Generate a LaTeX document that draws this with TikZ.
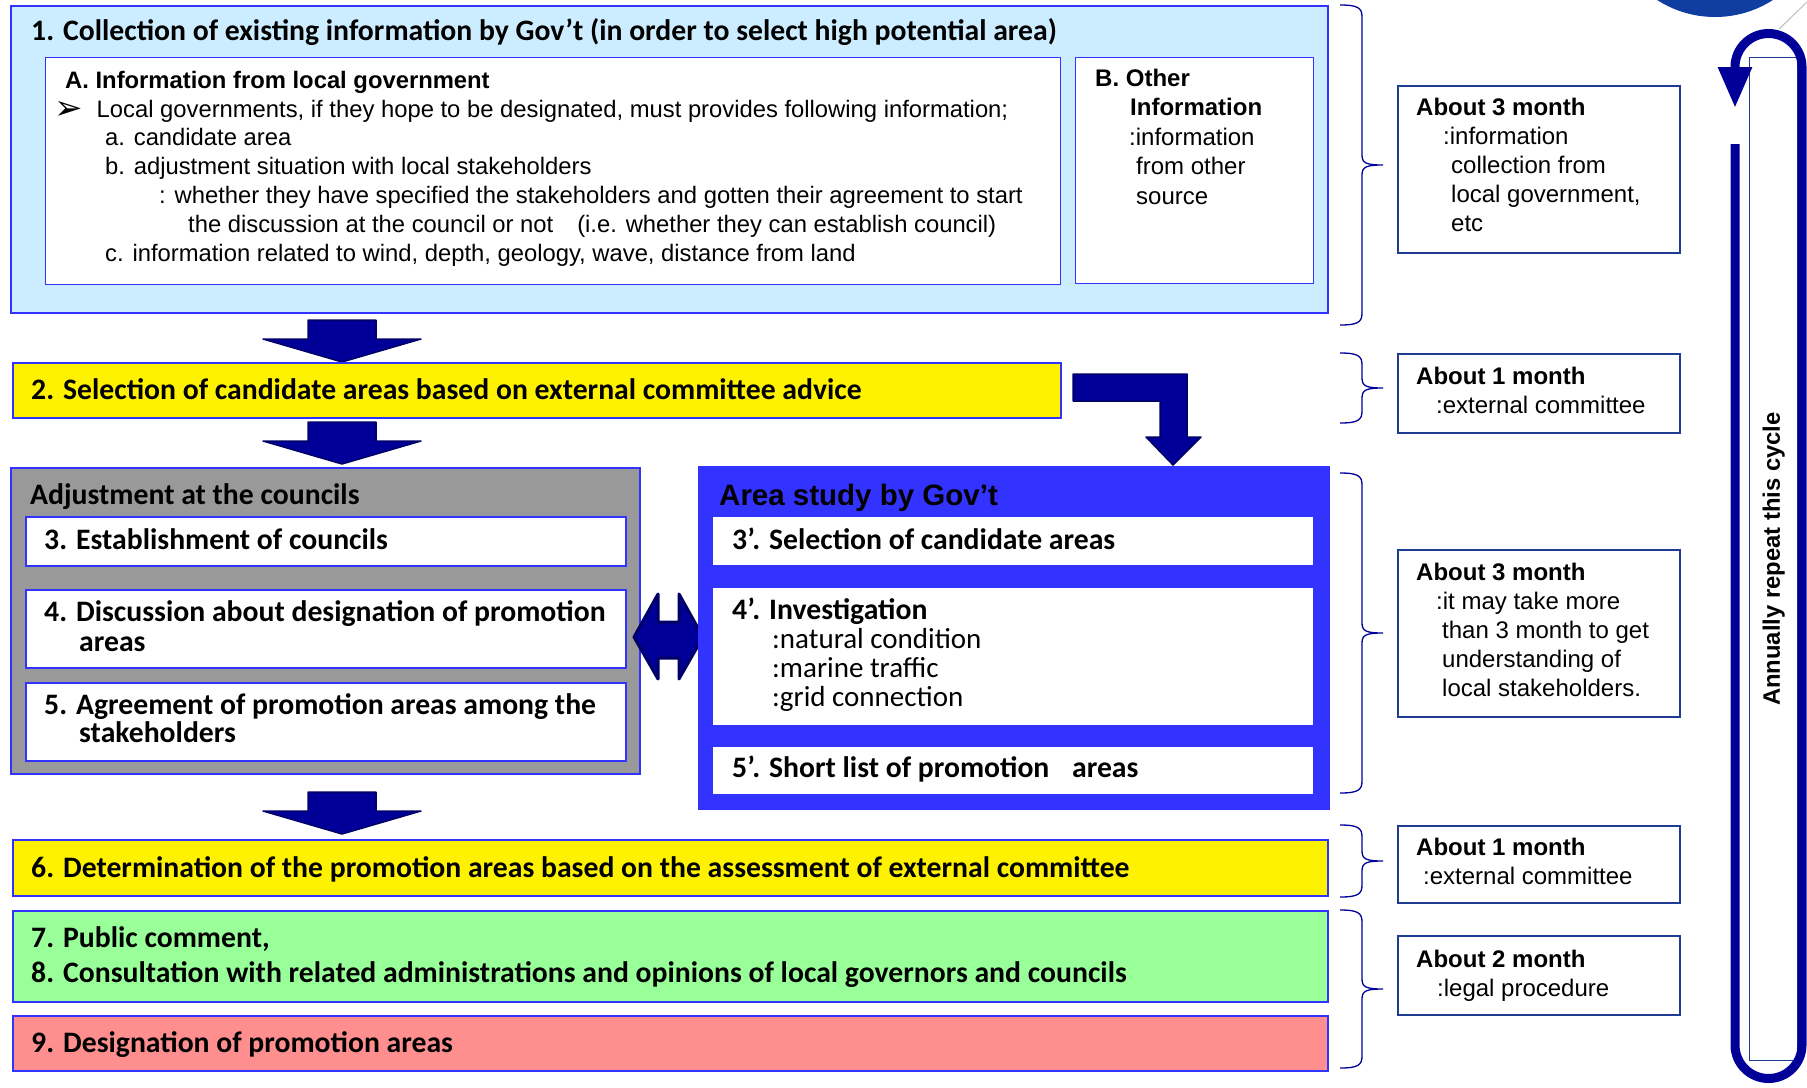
\documentclass[tikz,border=0pt]{standalone}
\usepackage{fontspec}
\setmainfont{Liberation Sans}
\newfontfamily\calib{Carlito}
\newfontfamily\dingfont{DejaVu Sans}
\usetikzlibrary{arrows.meta}

\definecolor{skyfill}{HTML}{CCECFF}
\definecolor{frameblue}{HTML}{3333FF}
\definecolor{studyblue}{HTML}{3333FF}
\definecolor{navy}{HTML}{000099}
\definecolor{navyedge}{HTML}{000066}
\definecolor{sideframe}{HTML}{1F3C93}
\definecolor{greenfill}{HTML}{99FF99}
\definecolor{pinkfill}{HTML}{FF8F8F}
\definecolor{grayfill}{HTML}{999999}
\definecolor{logoblue}{HTML}{0F3DA0}

\tikzset{
  panel/.style={draw=frameblue, line width=1.6pt, anchor=north west, inner sep=0pt},
  inbox/.style={draw=white, fill=white, line width=1pt, anchor=north west, inner sep=0pt},
  sidebox/.style={draw=sideframe, fill=white, line width=1.6pt, anchor=north west, inner sep=0pt},
  hd/.style={font=\calib\bfseries\fontsize{29.7}{34}\selectfont, anchor=base west, inner sep=0pt, align=left},
  sub/.style={font=\calib\fontsize{29}{29}\selectfont, anchor=base west, inner sep=0pt, align=left},
  note/.style={font=\fontsize{24}{29}\selectfont, anchor=base west, inner sep=0pt, align=left},
  blk/.style={fill=navy, draw=navyedge, line width=1.5pt, line join=round},
  brk/.style={draw=navy, line width=1.3pt},
  blockdown/.pic={\draw[blk] (-34,0) -- (34,0) -- (34,19) -- (79,19) -- (0,42) -- (-79,19) -- (-34,19) -- cycle;}
}

\begin{document}
\begin{tikzpicture}[x=1pt, y=-1pt]
    \useasboundingbox (0,0) rectangle (1807,1087);
    \clip (0,0) rectangle (1807,1087);

    % 1. collection of information (multi-line texts sit on their last baseline)
    \node[panel, fill=skyfill, minimum width=1317pt, minimum height=307pt] (collect) at (10,5) {};
    \node[hd] (collectT) at (31,40) {1. Collection of existing information by Gov’t (in order to select high potential area)};
    \node[panel, fill=white, line width=1.3pt, minimum width=1015pt, minimum height=227pt] (localA) at (45,57) {};
    \node[note, font=\fontsize{23.8}{28.8}\selectfont] (localT) at (65,261) {%
        {\bfseries A. Information from local government}\\
        \hspace*{-11pt}\raisebox{-2pt}{\dingfont\fontsize{34}{34}\selectfont ➢}\hspace{14pt}Local governments, if they hope to be designated, must provides following information;\\
        \hspace*{40pt}a. candidate area\\
        \hspace*{40pt}b. adjustment situation with local stakeholders\\
        \hspace*{94pt}: whether they have specified the stakeholders and gotten their agreement to start\\
        \hspace*{123pt}the discussion at the council or not\hspace{24pt}(i.e. whether they can establish council)\\
        \hspace*{40pt}c. information related to wind, depth, geology, wave, distance from land};
    \node[panel, fill=white, line width=1.3pt, minimum width=238pt, minimum height=226pt] (otherB) at (1075,57) {};
    \node[note, font=\fontsize{24}{29.5}\selectfont] (otherT) at (1095,204) {%
        {\bfseries B. Other}\\
        \hspace*{35pt}{\bfseries Information}\\
        \hspace*{34pt}:information\\
        \hspace*{41pt}from other\\
        \hspace*{41pt}source};

    % 2. candidate areas
    \pic at (342,320) {blockdown};
    \node[panel, fill=yellow, minimum width=1048pt, minimum height=55pt] (select) at (12,362) {};
    \node[hd] (selectT) at (31,399) {2. Selection of candidate areas based on external committee advice};
    \pic at (342,422) {blockdown};
    \draw[blk] (1073,374) -- (1187,374) -- (1187,437) -- (1201,437) -- (1173,465)
        -- (1146,437) -- (1160,437) -- (1160,401) -- (1073,401) -- cycle;

    % councils
    \node[panel, fill=grayfill, minimum width=629pt, minimum height=306pt] (adjust) at (10,467) {};
    \node[hd] (adjustT) at (30,504) {Adjustment at the councils};
    \node[panel, fill=white, minimum width=600pt, minimum height=49pt] (est3) at (25,516) {};
    \node[hd] (est3T) at (44,549) {3. Establishment of councils};
    \node[panel, fill=white, minimum width=600pt, minimum height=78pt] (disc4) at (25,589) {};
    \node[hd, font=\calib\bfseries\fontsize{29.7}{30}\selectfont] (disc4T) at (44,651) {4. Discussion about designation of promotion\\\hspace*{35pt}areas};
    \node[panel, fill=white, minimum width=600pt, minimum height=78pt] (agree5) at (25,682) {};
    \node[hd, font=\calib\bfseries\fontsize{29.7}{28}\selectfont] (agree5T) at (44,742) {5. Agreement of promotion areas among the\\\hspace*{35pt}stakeholders};

    % exchange between councils and Gov't
    \draw[blk, line width=3pt] (634,637) -- (658,594) -- (658,622) -- (679,622) -- (679,594) -- (703,637)
        -- (679,679) -- (679,658) -- (658,658) -- (658,679) -- cycle;

    % area study
    \node[panel, fill=studyblue, minimum width=630pt, minimum height=342pt] (study) at (698,466) {};
    \node[font=\bfseries\fontsize{29.5}{34}\selectfont, anchor=base west, inner sep=0pt] (studyT) at (719,505) {Area study by Gov’t};
    \node[inbox, minimum width=599pt, minimum height=47pt] (sel3) at (713,517) {};
    \node[hd] (sel3T) at (732,549) {3’. Selection of candidate areas};
    \node[inbox, minimum width=599pt, minimum height=136pt] (inv4) at (713,588) {};
    \node[hd] (inv4T) at (732,619) {4’. Investigation};
    \node[sub] (inv4S) at (772,706) {:natural condition\\:marine traffic\\:grid connection};
    \node[inbox, minimum width=599pt, minimum height=46pt] (short5) at (713,747) {};
    \node[hd] (short5T) at (732,777) {5’. Short list of promotion\hspace{16pt} areas};

    % 6. - 9.
    \pic at (342,792) {blockdown};
    \node[panel, fill=yellow, minimum width=1315pt, minimum height=56pt] (determ6) at (12,839) {};
    \node[hd] (determ6T) at (31,877) {6. Determination of the promotion areas based on the assessment of external committee};
    \node[panel, fill=greenfill, minimum width=1315pt, minimum height=91pt] (public7) at (12,910) {};
    \node[hd, font=\calib\bfseries\fontsize{29.7}{35}\selectfont] (public7T) at (31,982) {7. Public comment,\\8. Consultation with related administrations and opinions of local governors and councils};
    \node[panel, fill=pinkfill, minimum width=1315pt, minimum height=55pt] (design9) at (12,1015) {};
    \node[hd] (design9T) at (31,1052) {9. Designation of promotion areas};

    % brackets
    \foreach \ytop/\ybot in {5/325, 353/423, 473/793, 825/897, 910/1068}{
        \pgfmathsetmacro\ymid{(\ytop+\ybot)/2}
        \draw[brk] (1340,\ytop) .. controls (1358,\ytop) and (1362,\ytop+3) .. (1362,\ytop+12)
            -- (1362,\ymid-10) .. controls (1362,\ymid-2) and (1366,\ymid) .. (1383,\ymid)
            .. controls (1366,\ymid) and (1362,\ymid+2) .. (1362,\ymid+10)
            -- (1362,\ybot-12) .. controls (1362,\ybot-3) and (1358,\ybot) .. (1340,\ybot);
    }

    % durations
    \node[sidebox, minimum width=282pt, minimum height=167pt] (dur1) at (1397,85) {};
    \node[note] (dur1T) at (1416,231) {{\bfseries About 3 month}\\\hspace*{27pt}:information\\\hspace*{35pt}collection from\\\hspace*{35pt}local government,\\\hspace*{35pt}etc};
    \node[sidebox, minimum width=282pt, minimum height=79pt] (dur2) at (1397,353) {};
    \node[note] (dur2T) at (1416,413) {{\bfseries About 1 month}\\\hspace*{20pt}:external committee};
    \node[sidebox, minimum width=282pt, minimum height=167pt] (dur3) at (1397,549) {};
    \node[note] (dur3T) at (1416,696) {{\bfseries About 3 month}\\\hspace*{20pt}:it may take more\\\hspace*{26pt}than 3 month to get\\\hspace*{26pt}understanding of\\\hspace*{26pt}local stakeholders.};
    \node[sidebox, minimum width=282pt, minimum height=77pt] (dur4) at (1397,825) {};
    \node[note] (dur4T) at (1416,884) {{\bfseries About 1 month}\\\hspace*{7pt}:external committee};
    \node[sidebox, minimum width=282pt, minimum height=79pt] (dur5) at (1397,935) {};
    \node[note] (dur5T) at (1416,996) {{\bfseries About 2 month}\\\hspace*{21pt}:legal procedure};

    % yearly cycle
    \fill[logoblue] (1715,-90) circle[radius=107pt];
    \draw[gray!50, line width=1pt] (1779,29) -- (1807,2);
    \node[sidebox, line width=1.3pt, minimum width=48pt, minimum height=1003pt] (cycle) at (1749,57) {};
    \node[rotate=90, font=\bfseries\fontsize{23.8}{28}\selectfont] (cycleT) at (cycle.center) {Annually repeat this cycle};
    \draw[navy, line width=9pt, -{Triangle[length=41pt, width=32pt]}] (1735,144) -- (1735,1045)
        arc[start angle=180, end angle=360, radius=33.5pt] -- (1802,67)
        arc[start angle=0, end angle=180, radius=33.5pt] -- (1735,108);
\end{tikzpicture}
\end{document}
